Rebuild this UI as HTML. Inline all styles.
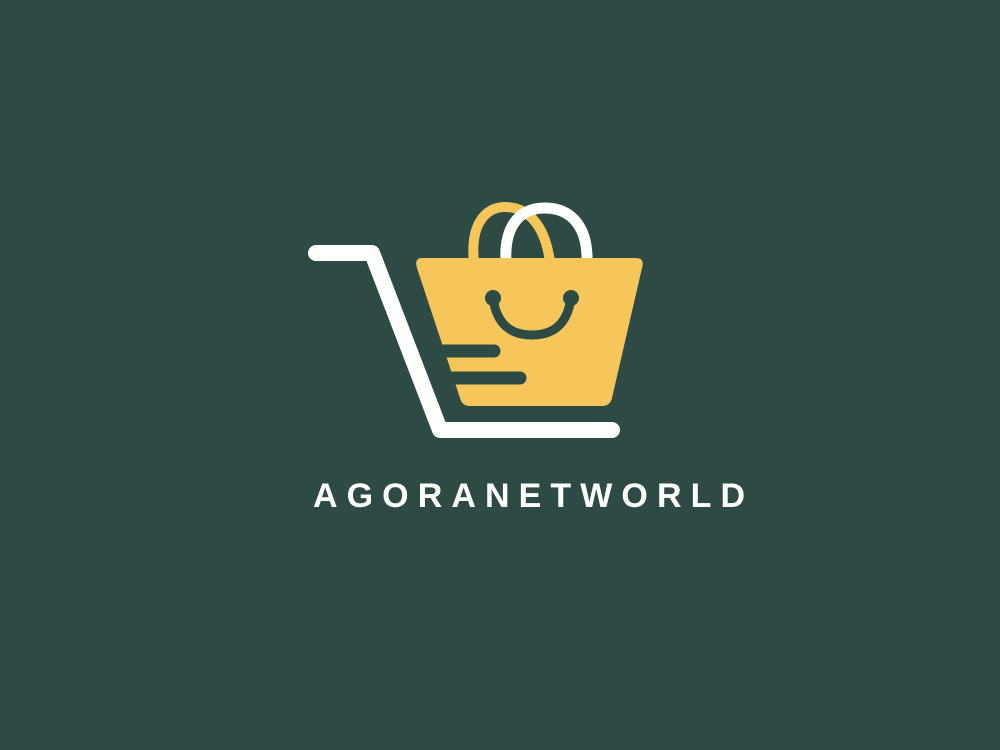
<!DOCTYPE html>
<html><head><meta charset="utf-8"><style>
html,body{margin:0;padding:0;background:#2e4a44;}
svg{display:block}
</style></head><body>
<svg width="1000" height="750" viewBox="0 0 1000 750">
<rect width="1000" height="750" fill="#2e4a44"/>
<g>
<path d="M474,262 C470,225 485,207 505,207 C528,207 545,225 550,262" fill="none" stroke="#f7c65b" stroke-width="10"/>
<path d="M506,262 C504,228 518,208 545,208 C572,208 588,228 587,262" fill="none" stroke="#ffffff" stroke-width="11"/>
</g>
<path d="M422,258 L636,258 Q645,258 642,268 L612,398 Q610,406 602,406 L470,406 Q462,406 460,398 L417,268 Q414,258 422,258 Z" fill="#f7c65b"/>
<g stroke="#2e4a44" stroke-linecap="round" stroke-width="13">
<line x1="430" y1="351" x2="494" y2="351"/>
<line x1="440" y1="378" x2="520" y2="378"/>
</g>
<g>
<circle cx="493" cy="298" r="8" fill="#2e4a44"/>
<circle cx="571" cy="298" r="8" fill="#2e4a44"/>
<path d="M493,298 Q498,335 532,335 Q566,335 571,298" fill="none" stroke="#2e4a44" stroke-width="9" stroke-linecap="round"/>
</g>
<path d="M316,253 L372,253 L440,430 L612,430" fill="none" stroke="#ffffff" stroke-width="16" stroke-linecap="round" stroke-linejoin="round"/>
<text x="313" y="507" textLength="432" lengthAdjust="spacing" font-family="Liberation Sans, sans-serif" font-size="34" font-weight="bold" fill="#ffffff">AGORANETWORLD</text>
</svg>
</body></html>
